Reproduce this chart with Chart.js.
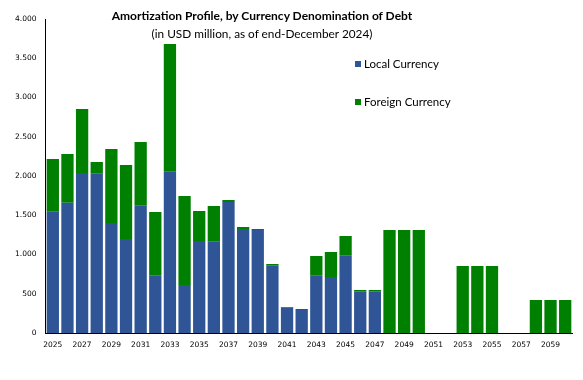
<!DOCTYPE html>
<html>
<head>
<meta charset="utf-8">
<script src="https://cdn.jsdelivr.net/npm/chart.js@4"></script>
<style>
  html, body { margin: 0; padding: 0; background: #fff; }
  #wrap { position: relative; width: 583px; height: 380px; }
  canvas { position: absolute; left: 0; top: 0; }
  .t { position: absolute; white-space: nowrap; font-family: Lato, "Open Sans", sans-serif; color: #000; line-height: 1.2; }
  #title { left: 0; width: 524px; text-align: center; top: 8.5px; font-size: 12px; font-weight: bold; }
  #sub { left: 0; width: 524px; text-align: center; top: 26.5px; font-size: 11.8px; }
  .leg { font-size: 11.5px; left: 364px; }
  .sw { position: absolute; width: 6px; height: 6px; left: 355px; }
</style>
</head>
<body>
<div id="wrap">
  <canvas id="c" width="583" height="380"></canvas>
  <div class="t" id="title">Amortization Profile, by Currency Denomination of Debt</div>
  <div class="t" id="sub">(in USD million, as of end-December 2024)</div>
  <div class="sw" style="top:61px; background:#2F5597;"></div>
  <div class="t leg" style="top:57px;">Local Currency</div>
  <div class="sw" style="top:99px; background:#008000;"></div>
  <div class="t leg" style="top:95px;">Foreign Currency</div>
</div>
<script>
const years = [];
for (let y = 2025; y <= 2060; y++) years.push(String(y));

const seriesNames = ["Local Currency", "Foreign Currency"];

const localCurrency = [1545, 1660, 2038, 2030, 1401, 1198, 1622, 730, 2055, 612,
  1172, 1163, 1669, 1325, 1312, 858, 323, 293, 730, 713,
  985, 531, 531, 0, 0, 0, 0, 0, 0, 0,
  0, 0, 0, 0, 0, 0];

const foreignCurrency = [672, 620, 816, 148, 943, 942, 811, 811, 1627, 1133,
  382, 455, 25, 25, 13, 21, 8, 13, 251, 319,
  251, 17, 17, 1312, 1312, 1312, 0, 0, 854, 854,
  854, 0, 0, 420, 420, 420];

const yTicks = [0, 500, 1000, 1500, 2000, 2500, 3000, 3500, 4000];

const tickFont = { family: "DejaVu Sans", size: 7.5 };

new Chart(document.getElementById("c"), {
  type: "bar",
  data: {
    labels: years,
    datasets: [
      { label: seriesNames[0], data: localCurrency, backgroundColor: "#2F5597", borderWidth: 0 },
      { label: seriesNames[1], data: foreignCurrency, backgroundColor: "#008000", borderWidth: 0 }
    ]
  },
  options: {
    responsive: false,
    animation: false,
    devicePixelRatio: 1,
    layout: { padding: { top: 19, right: 10.5, left: 0, bottom: 0 } },
    plugins: { legend: { display: false }, tooltip: { enabled: false } },
    datasets: { bar: { categoryPercentage: 0.84, barPercentage: 1.0 } },
    scales: {
      x: {
        stacked: true,
        grid: { display: false, drawTicks: false },
        border: { display: true, color: "#000", width: 1 },
        ticks: {
          autoSkip: false, maxRotation: 0, minRotation: 0, padding: 8,
          color: "#000", font: tickFont,
          callback: function (v, i) { return i % 2 === 0 ? years[i] : ""; }
        },
        afterFit: function (s) { s.height = 47; }
      },
      y: {
        stacked: true,
        min: 0, max: 4000,
        grid: { display: false, drawTicks: false },
        border: { display: true, color: "#000", width: 1 },
        afterBuildTicks: function (s) { s.ticks = yTicks.map(v => ({ value: v })); },
        ticks: {
          padding: 9, color: "#000", font: tickFont,
          callback: function (v) { return v.toLocaleString("de-DE"); }
        },
        afterFit: function (s) { s.width = 45.5; }
      }
    }
  }
});
</script>
</body>
</html>
